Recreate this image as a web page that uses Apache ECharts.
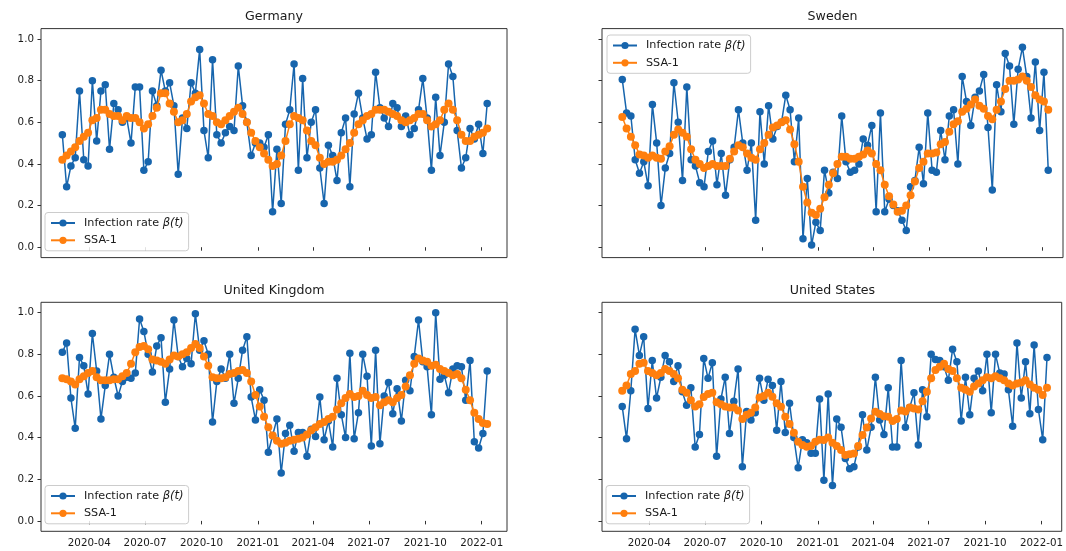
<!DOCTYPE html>
<html>
<head>
<meta charset="utf-8">
<script src="https://cdn.jsdelivr.net/npm/echarts@6/dist/echarts.min.js"></script>
<style>
  html, body { margin: 0; padding: 0; background: #fff; }
  #chart { width: 1066px; height: 551px; }
</style>
</head>
<body>
<div id="chart"></div>
<script>
// Weekly estimates: first week and number of weeks
const firstWeek = '2020-02-17';
const weekCount = 100;

// Quarter tick labels on the time axis
const quarterTicks = ['2020-04', '2020-07', '2020-10', '2021-01', '2021-04', '2021-07', '2021-10', '2022-01'];
const yTicks = [0.0, 0.2, 0.4, 0.6, 0.8, 1.0];

const countries = ['Germany', 'Sweden', 'United Kingdom', 'United States'];
const rateName = 'Infection rate β(t)';
const ssaName = 'SSA-1';

const germanyRate = [0.54,0.29,0.39,0.43,0.75,0.42,0.39,0.80,0.51,0.75,0.78,0.47,0.69,0.66,0.60,0.62,0.50,0.77,0.77,0.37,
  0.41,0.75,0.68,0.85,0.75,0.79,0.68,0.35,0.62,0.57,0.79,0.74,0.95,0.56,0.43,0.90,0.54,0.50,0.55,0.58,
  0.56,0.87,0.68,0.60,0.44,0.50,0.50,0.48,0.54,0.17,0.47,0.21,0.59,0.66,0.88,0.37,0.81,0.43,0.60,0.66,
  0.38,0.21,0.49,0.44,0.32,0.55,0.62,0.29,0.64,0.74,0.62,0.52,0.54,0.84,0.67,0.62,0.58,0.69,0.67,0.58,
  0.63,0.54,0.57,0.66,0.81,0.62,0.37,0.72,0.44,0.60,0.88,0.82,0.56,0.38,0.43,0.57,0.52,0.59,0.45,0.69];
const germanySsa = [0.42,0.44,0.46,0.48,0.51,0.53,0.55,0.61,0.62,0.66,0.66,0.64,0.63,0.63,0.61,0.63,0.62,0.62,0.60,0.57,
  0.59,0.63,0.67,0.74,0.74,0.69,0.65,0.60,0.61,0.64,0.70,0.72,0.73,0.69,0.64,0.63,0.60,0.59,0.61,0.63,
  0.65,0.67,0.64,0.60,0.55,0.51,0.48,0.45,0.42,0.39,0.40,0.44,0.51,0.59,0.63,0.62,0.61,0.56,0.51,0.49,
  0.43,0.40,0.41,0.41,0.42,0.44,0.47,0.50,0.55,0.59,0.61,0.63,0.64,0.66,0.66,0.66,0.65,0.64,0.63,0.61,
  0.60,0.61,0.62,0.64,0.64,0.61,0.58,0.59,0.61,0.66,0.69,0.66,0.61,0.54,0.51,0.51,0.53,0.54,0.55,0.57];

const swedenRate = [0.805,0.645,0.63,0.42,0.355,0.41,0.295,0.685,0.50,0.20,0.38,0.45,0.79,0.60,0.32,0.77,0.42,0.39,0.31,0.29,
  0.46,0.51,0.30,0.45,0.25,0.42,0.48,0.66,0.50,0.37,0.50,0.13,0.65,0.40,0.68,0.52,0.58,0.60,0.73,0.66,
  0.41,0.62,0.04,0.33,0.01,0.12,0.08,0.37,0.26,0.36,0.33,0.63,0.41,0.36,0.37,0.40,0.52,0.49,0.585,0.17,
  0.645,0.17,0.23,0.20,0.175,0.13,0.08,0.29,0.32,0.48,0.305,0.645,0.37,0.36,0.56,0.42,0.63,0.66,0.40,0.82,
  0.70,0.585,0.72,0.75,0.83,0.575,0.275,0.78,0.65,0.93,0.87,0.59,0.855,0.96,0.82,0.62,0.89,0.56,0.84,0.37];
const swedenSsa = [0.625,0.57,0.53,0.49,0.445,0.44,0.43,0.44,0.43,0.425,0.46,0.485,0.54,0.565,0.55,0.53,0.47,0.42,0.40,0.38,
  0.39,0.40,0.39,0.39,0.39,0.425,0.46,0.49,0.48,0.45,0.43,0.42,0.47,0.50,0.54,0.575,0.585,0.60,0.61,0.565,
  0.495,0.41,0.29,0.215,0.165,0.155,0.185,0.24,0.30,0.355,0.40,0.435,0.435,0.425,0.425,0.435,0.445,0.465,0.45,0.40,
  0.37,0.30,0.245,0.205,0.17,0.175,0.20,0.25,0.315,0.38,0.41,0.45,0.45,0.455,0.495,0.505,0.555,0.59,0.605,0.65,
  0.665,0.685,0.71,0.68,0.665,0.63,0.615,0.66,0.70,0.76,0.80,0.80,0.805,0.82,0.80,0.77,0.73,0.71,0.70,0.66];

const ukRate = [0.81,0.855,0.59,0.445,0.785,0.745,0.61,0.90,0.72,0.49,0.65,0.80,0.69,0.60,0.67,0.69,0.685,0.71,0.97,0.91,
  0.80,0.715,0.84,0.88,0.57,0.73,0.965,0.79,0.74,0.78,0.755,0.995,0.82,0.865,0.80,0.475,0.67,0.73,0.685,0.80,
  0.565,0.685,0.82,0.885,0.595,0.485,0.63,0.58,0.33,0.41,0.49,0.23,0.42,0.46,0.335,0.425,0.425,0.31,0.44,0.405,
  0.595,0.39,0.48,0.355,0.685,0.51,0.40,0.805,0.395,0.52,0.80,0.695,0.36,0.82,0.37,0.60,0.665,0.515,0.635,0.48,
  0.675,0.625,0.79,0.965,0.765,0.74,0.51,1.00,0.68,0.70,0.615,0.73,0.745,0.74,0.58,0.77,0.38,0.35,0.42,0.72];
const ukSsa = [0.685,0.68,0.67,0.655,0.68,0.695,0.71,0.72,0.69,0.675,0.675,0.675,0.68,0.68,0.695,0.71,0.755,0.81,0.835,0.84,
  0.825,0.775,0.77,0.765,0.755,0.775,0.795,0.79,0.80,0.81,0.83,0.85,0.83,0.79,0.745,0.69,0.685,0.685,0.69,0.705,
  0.71,0.72,0.725,0.71,0.67,0.605,0.55,0.50,0.45,0.41,0.385,0.37,0.375,0.385,0.39,0.395,0.40,0.415,0.435,0.45,
  0.465,0.475,0.49,0.50,0.535,0.565,0.59,0.61,0.595,0.60,0.625,0.605,0.59,0.595,0.555,0.57,0.58,0.57,0.59,0.605,
  0.645,0.70,0.755,0.78,0.77,0.765,0.745,0.75,0.73,0.72,0.71,0.70,0.705,0.685,0.63,0.58,0.52,0.49,0.47,0.465];

const usRate = [0.55,0.395,0.625,0.92,0.795,0.885,0.54,0.77,0.59,0.69,0.795,0.765,0.67,0.745,0.62,0.555,0.64,0.355,0.415,0.78,
  0.685,0.76,0.31,0.585,0.69,0.42,0.575,0.73,0.26,0.525,0.485,0.52,0.685,0.58,0.68,0.65,0.435,0.67,0.425,0.565,
  0.40,0.255,0.39,0.375,0.325,0.325,0.585,0.195,0.61,0.17,0.49,0.45,0.30,0.25,0.26,0.355,0.51,0.34,0.45,0.69,
  0.485,0.415,0.64,0.355,0.355,0.77,0.45,0.545,0.615,0.365,0.63,0.50,0.80,0.775,0.77,0.74,0.675,0.825,0.765,0.48,
  0.69,0.51,0.685,0.72,0.625,0.80,0.52,0.80,0.71,0.705,0.63,0.455,0.855,0.59,0.765,0.515,0.845,0.535,0.39,0.785];
const usSsa = [0.625,0.65,0.705,0.72,0.755,0.76,0.72,0.71,0.70,0.71,0.73,0.72,0.705,0.685,0.63,0.615,0.58,0.55,0.56,0.595,
  0.61,0.615,0.57,0.56,0.55,0.545,0.545,0.53,0.49,0.51,0.52,0.545,0.593,0.60,0.615,0.596,0.565,0.548,0.50,0.465,
  0.423,0.38,0.364,0.356,0.36,0.38,0.39,0.388,0.40,0.375,0.36,0.34,0.316,0.32,0.324,0.36,0.412,0.449,0.492,0.524,
  0.513,0.503,0.50,0.48,0.49,0.53,0.525,0.545,0.54,0.535,0.575,0.62,0.685,0.725,0.74,0.755,0.73,0.72,0.685,0.64,
  0.63,0.62,0.645,0.66,0.675,0.69,0.685,0.695,0.685,0.675,0.66,0.65,0.66,0.665,0.675,0.655,0.64,0.63,0.605,0.64];

const rates = [germanyRate, swedenRate, ukRate, usRate];
const ssas = [germanySsa, swedenSsa, ukSsa, usSsa];

// ---- drawing ----
const BLUE = '#1765ad';
const ORANGE = '#ff7f0e';
const INK = '#1a1a1a';
const FONT = '"DejaVu Sans", sans-serif';
const DAY = 86400000;
const LEGEND_FONT = 11.2;

function utc(str) {
  const [y, m, d] = str.split('-').map(Number);
  return Date.UTC(y, m - 1, d || 1);
}
const start = utc(firstWeek);
const weeks = Array.from({ length: weekCount }, (_, i) => start + i * 7 * DAY);
const tickTimes = quarterTicks.map(s => utc(s));

function monthLabel(v) {
  const d = new Date(v);
  return d.getUTCFullYear() + '-' + String(d.getUTCMonth() + 1).padStart(2, '0');
}

// panel layout (plot boxes in pixels); x axes run on UTC milliseconds
const panels = [
  { left: 41,  top: 28.6,  width: 466, xMin: utc('2020-01-13') + 0.2 * DAY, xMax: utc('2022-02-11') + 0.3 * DAY, yLabels: true,  xLabels: false, legendLeft: 45,  legendTop: 212.5 },
  { left: 602, top: 28.6,  width: 461, xMin: utc('2020-01-15'), xMax: utc('2022-02-03'), yLabels: false, xLabels: false, legendLeft: 607, legendTop: 35 },
  { left: 41,  top: 302.3, width: 466, xMin: utc('2020-01-13') + 0.2 * DAY, xMax: utc('2022-02-11') + 0.3 * DAY, yLabels: true,  xLabels: true,  legendLeft: 45,  legendTop: 485.5 },
  { left: 602, top: 302.3, width: 461, xMin: utc('2020-01-15'), xMax: utc('2022-02-03'), yLabels: false, xLabels: true,  legendLeft: 606, legendTop: 485.5 }
];
const plotHeight = 229;

const grids = [], xAxes = [], yAxes = [], series = [], legends = [], titles = [];

panels.forEach((p, k) => {
  grids.push({
    left: p.left, top: p.top, width: p.width, height: plotHeight,
    show: true, borderColor: '#333', borderWidth: 1, backgroundColor: 'transparent'
  });
  xAxes.push({
    type: 'value', gridIndex: k, min: p.xMin, max: p.xMax, scale: true,
    splitLine: { show: false },
    axisLine: { show: false },
    axisTick: { show: true, length: 3.5, customValues: tickTimes, lineStyle: { color: '#333', width: 1 } },
    axisLabel: {
      show: p.xLabels, customValues: tickTimes, formatter: monthLabel,
      margin: 7, fontSize: 10.3, color: INK, fontFamily: FONT
    }
  });
  yAxes.push({
    type: 'value', gridIndex: k, min: -0.05, max: 1.05,
    splitLine: { show: false },
    axisLine: { show: false },
    axisTick: { show: true, length: 3.5, customValues: yTicks, lineStyle: { color: '#333', width: 1 } },
    axisLabel: {
      show: p.yLabels, customValues: yTicks, formatter: v => v.toFixed(1),
      margin: 7, fontSize: 10.3, color: INK, fontFamily: FONT
    }
  });
  const common = {
    type: 'line', xAxisIndex: k, yAxisIndex: k,
    symbol: 'circle', showSymbol: true, showAllSymbol: true,
    animation: false, emphasis: { disabled: true }
  };
  series.push(Object.assign({}, common, {
    name: rateName, z: 2, symbolSize: 7.5,
    data: weeks.map((t, i) => [t, rates[k][i]]),
    lineStyle: { width: 1.5, color: BLUE }, itemStyle: { color: BLUE }
  }));
  series.push(Object.assign({}, common, {
    name: ssaName, z: 3, symbolSize: 8,
    data: weeks.map((t, i) => [t, ssas[k][i]]),
    lineStyle: { width: 1.5, color: ORANGE }, itemStyle: { color: ORANGE }
  }));
  legends.push({
    data: [rateName, ssaName], orient: 'vertical',
    left: p.legendLeft, top: p.legendTop,
    itemWidth: 24, itemHeight: 9, itemGap: 4.3,
    padding: [4, 5, 4, 5],
    backgroundColor: 'rgba(255,255,255,0.85)', borderColor: '#cccccc', borderWidth: 1, borderRadius: 3,
    selectedMode: false,
    formatter: name => name === rateName ? '{s|}{t|Infection rate }{m|β(t)}' : '{s|}{t|' + name + '}',
    textStyle: {
      fontSize: LEGEND_FONT, fontFamily: FONT, color: INK, lineHeight: 13,
      rich: {
        s: { width: 4 },
        t: { fontSize: LEGEND_FONT, fontFamily: FONT, color: INK, lineHeight: 13 },
        m: { fontSize: LEGEND_FONT + 0.4, fontFamily: FONT, color: INK, fontStyle: 'italic', lineHeight: 13 }
      }
    }
  });
  titles.push({
    type: 'text', x: p.left + p.width / 2, y: p.top - 11.5,
    style: { text: countries[k], align: 'center', verticalAlign: 'middle', font: '12.6px ' + FONT, fill: INK }
  });
});

const chart = echarts.init(document.getElementById('chart'), null, { renderer: 'canvas' });
chart.setOption({
  animation: false,
  backgroundColor: '#ffffff',
  grid: grids,
  xAxis: xAxes,
  yAxis: yAxes,
  legend: legends,
  series: series,
  graphic: titles
});
</script>
</body>
</html>
